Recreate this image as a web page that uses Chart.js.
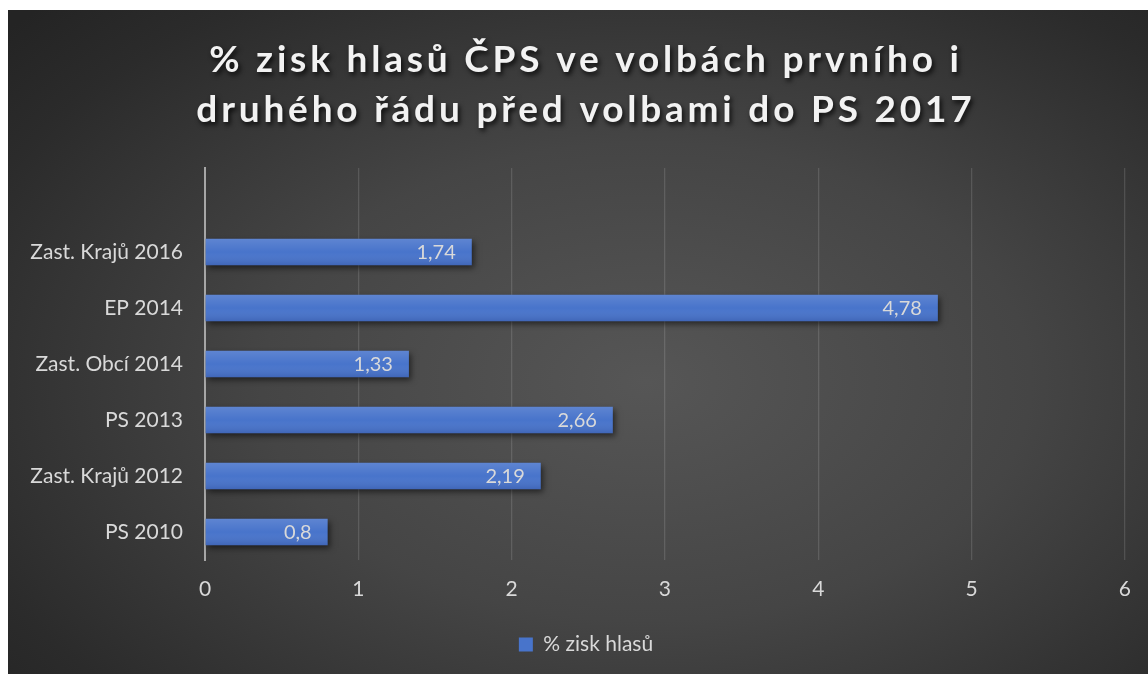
<!DOCTYPE html>
<html>
<head>
<meta charset="utf-8">
<script src="https://cdn.jsdelivr.net/npm/chart.js@4/dist/chart.umd.min.js"></script>
<style>
  html, body { margin: 0; padding: 0; background: #ffffff; }
  #wrap {
    position: absolute; left: 8px; top: 10px; width: 1140px; height: 664px;
    background: radial-gradient(ellipse 75% 80% at 56% 56%, #565656 0%, #454545 45%, #2b2b2b 85%, #242424 100%);
  }
</style>
</head>
<body>
<div id="wrap"><canvas id="chart" width="1140" height="664"></canvas></div>
<script>
/*******************************************************
 * DATA
 *******************************************************/
const TITLE_LINES = ["% zisk hlasů ČPS ve volbách prvního i", "druhého řádu před volbami do PS 2017"];
// top row is an empty category (as in the original sheet)
const CATEGORIES = ["", "Zast. Krajů 2016", "EP 2014", "Zast. Obcí 2014", "PS 2013", "Zast. Krajů 2012", "PS 2010"];
const VALUES = [null, 1.74, 4.78, 1.33, 2.66, 2.19, 0.8];
const SERIES_NAME = "% zisk hlasů";
const X_TICKS = [0, 1, 2, 3, 4, 5, 6];

const TEXT_COLOR = "#d9d9d9";
const BAR_COLOR = "#4874cb";

/*******************************************************
 * PLUGINS
 *******************************************************/
// shadow under the bars
const barShadow = {
  id: "barShadow",
  beforeDatasetsDraw(chart) {
    const ctx = chart.ctx;
    ctx.save();
    ctx.shadowColor = "rgba(0,0,0,0.55)";
    ctx.shadowBlur = 6;
    ctx.shadowOffsetX = 2;
    ctx.shadowOffsetY = 3;
  },
  afterDatasetsDraw(chart) {
    chart.ctx.restore();
  }
};

// light-to-dark sheen on each bar + value labels inside the end
const barLabels = {
  id: "barLabels",
  afterDatasetsDraw(chart) {
    const ctx = chart.ctx;
    const meta = chart.getDatasetMeta(0);
    meta.data.forEach((bar, i) => {
      const v = VALUES[i];
      if (v === null) return;
      const p = bar.getProps(["x", "y", "base", "height"], true);
      const top = p.y - p.height / 2;
      const g = ctx.createLinearGradient(0, top, 0, top + p.height);
      g.addColorStop(0, "rgba(255,255,255,0.12)");
      g.addColorStop(0.5, "rgba(255,255,255,0)");
      g.addColorStop(1, "rgba(0,0,40,0.12)");
      ctx.save();
      ctx.fillStyle = g;
      ctx.fillRect(p.base, top, p.x - p.base, p.height);
      ctx.fillStyle = TEXT_COLOR;
      ctx.font = "20px Lato";
      ctx.textAlign = "right";
      ctx.textBaseline = "middle";
      ctx.fillText(String(v).replace(".", ","), p.x - 16, p.y + 1);
      ctx.restore();
    });
  }
};

// title with shadow
const shadowTitle = {
  id: "shadowTitle",
  afterDraw(chart) {
    const ctx = chart.ctx;
    ctx.save();
    ctx.font = "bold 37px Lato";
    ctx.letterSpacing = "3.8px";
    ctx.fillStyle = "#f2f2f2";
    ctx.textAlign = "center";
    ctx.textBaseline = "middle";
    ctx.shadowColor = "rgba(0,0,0,0.8)";
    ctx.shadowBlur = 5;
    ctx.shadowOffsetX = 2;
    ctx.shadowOffsetY = 3;
    TITLE_LINES.forEach((line, i) => {
      ctx.fillText(line, 578, 50 + i * 50);
    });
    ctx.restore();
  }
};

// nudge the legend to the right, like the original
const legendShift = {
  id: "legendShift",
  afterLayout(chart) {
    chart.legend.left += 17;
    chart.legend.right += 17;
  }
};

/*******************************************************
 * CHART
 *******************************************************/
const ctx = document.getElementById("chart").getContext("2d");

new Chart(ctx, {
  type: "bar",
  data: {
    labels: CATEGORIES,
    datasets: [
      {
        label: SERIES_NAME,
        data: VALUES,
        backgroundColor: BAR_COLOR,
        borderWidth: 0,
        categoryPercentage: 1,
        barPercentage: 0.47
      }
    ]
  },
  options: {
    indexAxis: "y",
    responsive: false,
    animation: false,
    layout: {
      padding: { top: 158, left: 5, right: 23, bottom: 9 }
    },
    scales: {
      x: {
        min: 0,
        max: 6,
        afterBuildTicks: (axis) => { axis.ticks = X_TICKS.map(v => ({ value: v })); },
        afterFit: (axis) => { axis.height = 64; },
        grid: {
          color: (c) => c.tick && c.tick.value === 0 ? "rgba(0,0,0,0)" : "rgba(255,255,255,0.13)",
          lineWidth: 1.3,
          drawTicks: false
        },
        border: { display: false },
        ticks: {
          color: TEXT_COLOR,
          font: { family: "Lato", size: 21 },
          padding: 17
        }
      },
      y: {
        afterFit: (axis) => { axis.width = 192; },
        grid: { display: false, drawTicks: false },
        border: { display: true, color: "#a6a6a6", width: 2 },
        ticks: {
          color: TEXT_COLOR,
          font: { family: "Lato", size: 21 },
          padding: 22
        }
      }
    },
    plugins: {
      legend: {
        display: true,
        position: "bottom",
        labels: {
          color: TEXT_COLOR,
          font: { family: "Lato", size: 21 },
          boxWidth: 14,
          boxHeight: 14,
          padding: 10
        }
      },
      tooltip: { enabled: false }
    }
  },
  plugins: [barShadow, barLabels, shadowTitle, legendShift]
});
</script>
</body>
</html>
